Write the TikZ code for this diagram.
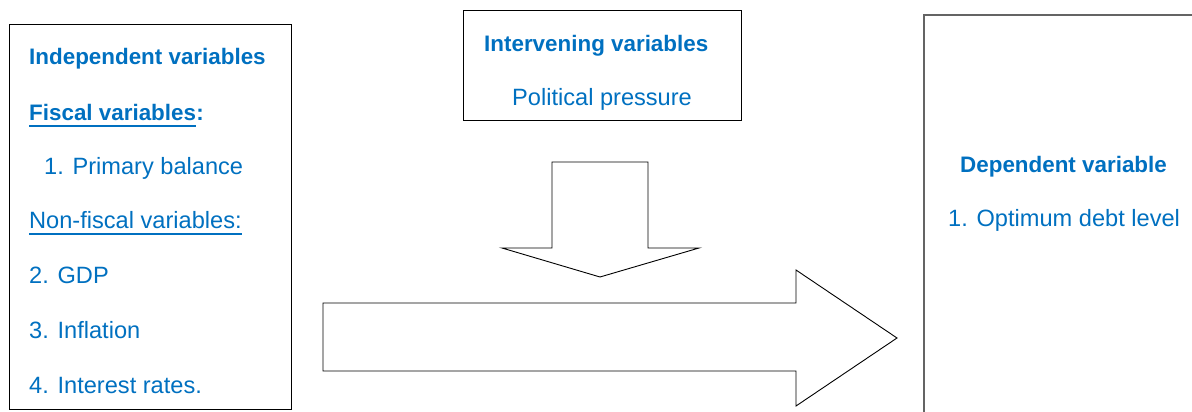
\documentclass[tikz,border=0pt]{standalone}
\usepackage{fontspec}
\setmainfont{Liberation Sans}
\definecolor{txtblue}{RGB}{0,112,192}
\definecolor{edgegray}{RGB}{100,100,100}
\tikzset{
  boxline/.style={draw=black, line width=0.9pt},
  graybox/.style={draw=edgegray, line width=1.2pt},
  blockarrow/.style={draw=black, line width=0.9pt, fill=white, line join=miter},
  lbl/.style={anchor=base west, inner sep=0pt, text=txtblue, font=\fontsize{23.6}{28}\selectfont},
  hdr/.style={lbl, font=\fontsize{22.4}{27}\selectfont\bfseries},
  uline/.style={draw=txtblue, line width=1.8pt}
}
\begin{document}
\begin{tikzpicture}[x=1pt,y=-1pt]
\useasboundingbox (0,0) rectangle (1192,412);
% boxes
\draw[boxline] (9,24) rectangle (291,409);
\draw[boxline] (463,10) rectangle (741,120);
\draw[graybox] (1195,15) -- (924,15) -- (924,415);
% left box texts
\node[hdr] (indep) at (29,65) {Independent variables};
\node[hdr] (fisc) at (29,121) {Fiscal variables};
\node[hdr] (fiscc) at (fisc.base east) {:};
\draw[uline] ([yshift=-5pt]fisc.base west) -- ([yshift=-5pt]fisc.base east);
\node[lbl] (prim) at (44,174) {1. Primary balance};
\node[lbl] (nonf) at (29,228) {Non-fiscal variables:};
\draw[uline] ([yshift=-6pt]nonf.base west) -- ([yshift=-6pt]nonf.base east);
\node[lbl] (gdp) at (29,283) {2. GDP};
\node[lbl] (infl) at (29,338) {3. Inflation};
\node[lbl] (intr) at (29,393) {4. Interest rates.};
% middle box texts
\node[hdr] (interv) at (484,52) {Intervening variables};
\node[lbl] (polit) at (512,106) {Political pressure};
% right box texts
\node[hdr] (dep) at (960,172) {Dependent variable};
\node[lbl] (opt) at (948,226) {1. Optimum debt level};
% down block arrow
\draw[blockarrow] (552,162) -- (648,162) -- (648,248) -- (699,248) -- (600,277)
  -- (502,248) -- (552,248) -- cycle;
% right block arrow
\draw[blockarrow] (323,303) -- (796,303) -- (796,270) -- (897,338) -- (796,406)
  -- (796,371) -- (323,371) -- cycle;
\end{tikzpicture}
\end{document}
